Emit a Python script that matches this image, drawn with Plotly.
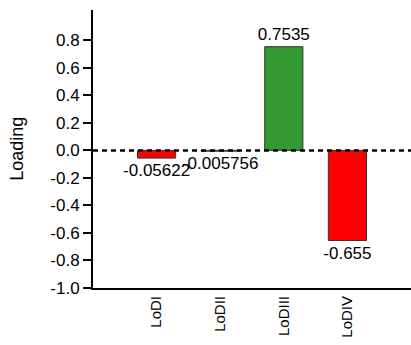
import plotly.graph_objects as go

# loadings per component
categories = ["LoDI", "LoDII", "LoDIII", "LoDIV"]
loadings = [-0.05622, -0.005756, 0.7535, -0.655]
ytick_vals = [-1.0, -0.8, -0.6, -0.4, -0.2, 0.0, 0.2, 0.4, 0.6, 0.8]

colors = ["#339933" if v > 0 else "#ff0000" for v in loadings]
font = "Liberation Sans, Arial, sans-serif"

fig = go.Figure(go.Bar(
    x=categories,
    y=loadings,
    width=0.6,
    marker=dict(color=colors, line=dict(color="#333333", width=1)),
    text=[str(v) for v in loadings],
    textposition="outside",
    constraintext="none",
    cliponaxis=False,
    textfont=dict(size=17, color="black", family=font),
))

# dashed zero line
fig.add_hline(y=0, line=dict(color="black", width=2.5, dash="5px,4px"))

# y title as annotation so it sits where the original had it
fig.add_annotation(x=-0.24, y=0.5, xref="paper", yref="paper",
                   xanchor="center", yanchor="middle",
                   text="Loading", showarrow=False, textangle=-90,
                   font=dict(size=18))

fig.update_layout(
    width=411, height=345,
    margin=dict(l=93, r=0, t=10, b=57),
    plot_bgcolor="white", paper_bgcolor="white",
    font=dict(family=font, size=17, color="black"),
    showlegend=False,
)
fig.update_yaxes(
    range=[-1, 1.02],
    tickvals=ytick_vals,
    ticktext=["%.1f" % v for v in ytick_vals],
    showline=True, linecolor="black", linewidth=2,
    ticks="outside", ticklen=8, tickwidth=2, tickcolor="black",
    showgrid=False, zeroline=False, automargin=False,
    tickfont=dict(size=17),
)
fig.update_xaxes(
    range=[-1, 4],
    showline=True, linecolor="black", linewidth=2,
    tickangle=-90, ticks="", showgrid=False, automargin=False,
    tickfont=dict(size=15),
)

# page body has an 8px default margin; drop it so the chart fills the window
fig.write_html("out.html", config={"displayModeBar": False},
               post_script="document.body.style.margin='0';")
